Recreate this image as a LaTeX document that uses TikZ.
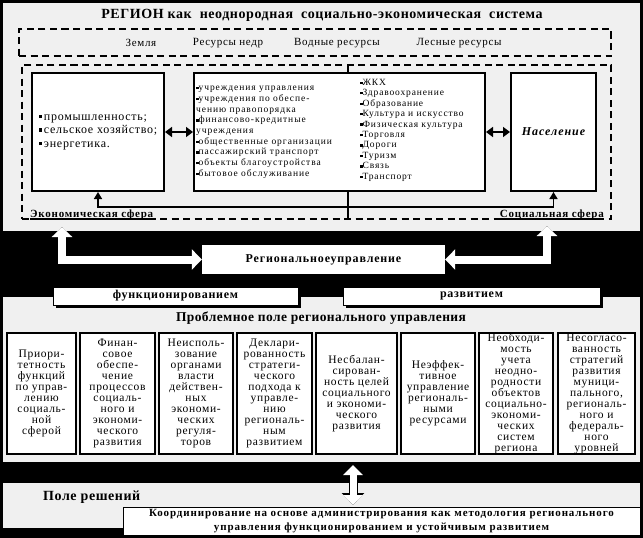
\documentclass[tikz,border=0pt]{standalone}
\usepackage{fontspec}
\setmainfont{Liberation Serif}
\usetikzlibrary{arrows.meta,shadows}
\definecolor{panel}{RGB}{240,240,240}
\newcommand\fsz[3]{\fontsize{#1}{#2}\selectfont\addfontfeature{LetterSpace=#3}}
\newcommand\bul{\raisebox{1.2pt}{\rule{2.4pt}{2.4pt}}}
\newcommand\bulb{\raisebox{2pt}{\rule{3.2pt}{3.2pt}}\hspace{2pt}}
\begin{document}
\begin{tikzpicture}[x=1pt,y=-1pt,
  dashbox/.style={draw, line width=1.6pt, dash pattern=on 7pt off 4.5pt, inner sep=0pt},
  solidbox/.style={draw, line width=2pt, fill=white, inner sep=0pt},
  conn/.style={line width=1.5pt},
  upar/.style={line width=1.5pt, -{Triangle[length=7pt,width=8pt]}},
  biar/.style={line width=2.6pt, {Triangle[length=7pt,width=10pt]}-{Triangle[length=7pt,width=10pt]}},
  fatb/.style={black, line width=10pt, {Triangle[length=12pt,width=23pt]}-{Triangle[length=12pt,width=23pt]}},
  fatw/.style={white, line width=8pt, {Triangle[length=10pt,width=20pt]}-{Triangle[length=10pt,width=20pt]}},
  fatbs/.style={black, line width=9pt, {Triangle[length=12pt,width=22pt]}-{Triangle[length=12pt,width=22pt]}},
  fatws/.style={white, line width=7pt, {Triangle[length=10pt,width=19pt]}-{Triangle[length=10pt,width=19pt]}},
  pbox/.style={draw, line width=2.2pt, fill=white, inner sep=0pt, align=center, minimum height=121pt, font=\fsz{11.5}{11}{6}},
  wbox/.style={draw, line width=1pt, fill=white, inner sep=0pt, font=\bfseries\fsz{12}{14}{6},
     drop shadow={fill=black, opacity=1, shadow xshift=3pt, shadow yshift=-3pt}},
  lbl/.style={inner sep=0pt, font=\bfseries\fsz{11}{13}{7}},
  res/.style={inner sep=0pt, font=\fsz{11}{13}{6}}
]
\useasboundingbox (0,0) rectangle (643,538);
% panels
\fill[black] (0,0) rectangle (643,538);
\fill[panel] (3,3) rectangle (640,231);
\fill[panel] (3,297) rectangle (640,462);
\fill[panel] (3,483) rectangle (640,528);

% title
\node[inner sep=0pt, font=\bfseries\fsz{14}{16}{4}] (title) at (322,15) {РЕГИОН как\hspace{4pt} неоднородная\hspace{4pt} социально-экономическая\hspace{4pt} система};

% resources
\node[dashbox, minimum width=592pt, minimum height=27pt] (resbox) at (315,42.5) {};
\node[res] (r1) at (141,43) {Земля};
\node[res] (r2) at (228,43) {Ресурсы недр};
\node[res] (r3) at (337,43) {Водные ресурсы};
\node[res] (r4) at (459,43) {Лесные ресурсы};

% spheres
\node[dashbox, minimum width=589pt, minimum height=154pt] (sph) at (316.5,142) {};
\node[solidbox, minimum width=132pt, minimum height=118pt, align=left, font=\fsz{12}{13.5}{6}] (el) at (98,132)
  {\bulb промышленность;\\ \bulb сельское хозяйство;\\ \bulb энергетика.};
\node[solidbox, minimum width=291pt, minimum height=118pt] (mb) at (339.5,132) {};
\node[solidbox, minimum width=85pt, minimum height=118pt, font=\bfseries\itshape\fsz{12}{14}{8}] (pop) at (553.5,132) {Население};

\node[anchor=north west, inner sep=0pt, align=left, font=\fsz{9.5}{10.7}{10}] (colL) at (196,83)
  {\strut\bul учреждения управления\\ \bul учреждения по обеспе-\\ чению правопорядка\\ \bul финансово-кредитные\\ учреждения\\ \bul общественные организации\\ \bul пассажирский транспорт\\ \bul объекты благоустройства\\ \bul бытовое обслуживание};
\node[anchor=north west, inner sep=0pt, align=left, font=\fsz{9.5}{10.45}{9}] (colR) at (360,77.7)
  {\strut\bul ЖКХ\\ \bul Здравоохранение\\ \bul Образование\\ \bul Культура и искусство\\ \bul Физическая культура\\ \bul Торговля\\ \bul Дороги\\ \bul Туризм\\ \bul Связь\\ \bul Транспорт};

\draw[biar] (el.east) -- (mb.west);
\draw[biar] (mb.east) -- (pop.west);

\coordinate (vt) at (348,65);
\coordinate (vb) at (348,219);
\coordinate (j) at (348,207);
\coordinate (bl) at (0,219);
\draw[conn] (vt) -- (vt |- mb.north);
\draw[conn] (vt |- mb.south) -- (vb);
\draw[upar] (j) -| (el.south);
\draw[upar] (j) -| (pop.south);

\node[lbl, anchor=base west] (ecl) at (30,217.5) {Экономическая сфера};
\node[lbl, anchor=base east] (scl) at (604,217.5) {Социальная сфера};
\draw[line width=1.6pt] (ecl.west |- bl) -- (ecl.east |- bl);
\draw[line width=1.6pt] (scl.west |- bl) -- (scl.east |- bl);

% regional management
\node[fill=white, inner sep=0pt, minimum width=243pt, minimum height=29pt, font=\bfseries\fsz{12}{14}{7}] (ru) at (323.5,259.5) {Региональноеуправление};
\coordinate (ea) at (62,227);
\coordinate (sa) at (547,226);
\draw[fatb] (ea) |- (ru.west);
\draw[fatw] (ea) |- (ru.west);
\draw[fatb] (sa) |- (ru.east);
\draw[fatw] (sa) |- (ru.east);

\node[wbox, minimum width=245pt, minimum height=18pt] (fun) at (175.5,296) {функционированием};
\node[wbox, minimum width=257pt, minimum height=18pt] (dev) at (471.5,296) {развитием};

% problem field
\node[inner sep=0pt, font=\bfseries\fsz{13.5}{15}{3}] (pt) at (321,318) {Проблемное поле регионального управления};
\node[pbox, minimum width=69pt] (p1) at (41.5,393.5) {Приори-\\тетность\\функций\\по управ-\\лению\\социаль-\\ной\\сферой};
\node[pbox, minimum width=75pt] (p2) at (117.5,393.5) {Финан-\\совое\\обеспе-\\чение\\процессов\\социаль-\\ного и\\экономи-\\ческого\\развития};
\node[pbox, minimum width=74pt] (p3) at (196,393.5) {Неисполь-\\зование\\органами\\власти\\действен-\\ных\\экономи-\\ческих\\регуля-\\торов};
\node[pbox, minimum width=75pt] (p4) at (274.5,393.5) {Деклари-\\рованность\\стратеги-\\ческого\\подхода к\\управле-\\нию\\региональ-\\ным\\развитием};
\node[pbox, minimum width=81pt] (p5) at (356.5,393.5) {Несбалан-\\сирован-\\ность целей\\социального\\и экономи-\\ческого\\развития};
\node[pbox, minimum width=74pt] (p6) at (438,393.5) {Неэффек-\\тивное\\управление\\региональ-\\ными\\ресурсами};
\node[pbox, minimum width=74pt] (p7) at (516,393.5) {Необходи-\\мость\\учета\\неодно-\\родности\\объектов\\социально-\\экономи-\\ческих\\систем\\региона};
\node[pbox, minimum width=77pt] (p8) at (596.5,393.5) {Несогласо-\\ванность\\стратегий\\развития\\муници-\\пального,\\региональ-\\ного и\\федераль-\\ного\\уровней};

% decision field
\node[anchor=base west, inner sep=0pt, font=\bfseries\fsz{14}{16}{4}] (pr) at (43,500) {Поле решений};
\node[draw, line width=1pt, fill=white, inner sep=0pt, minimum width=517pt, minimum height=28pt, align=center, font=\bfseries\fsz{11}{14.5}{8}] (co) at (381.5,521)
  {Координирование на основе администрирования как методология регионального\\ управления функционированием и устойчивым развитием};
\coordinate (ba) at (353,465);
\coordinate (bb) at (353,505);
\draw[fatbs] (ba) -- (bb);
\draw[fatws] (ba) -- (bb);
\end{tikzpicture}
\end{document}
